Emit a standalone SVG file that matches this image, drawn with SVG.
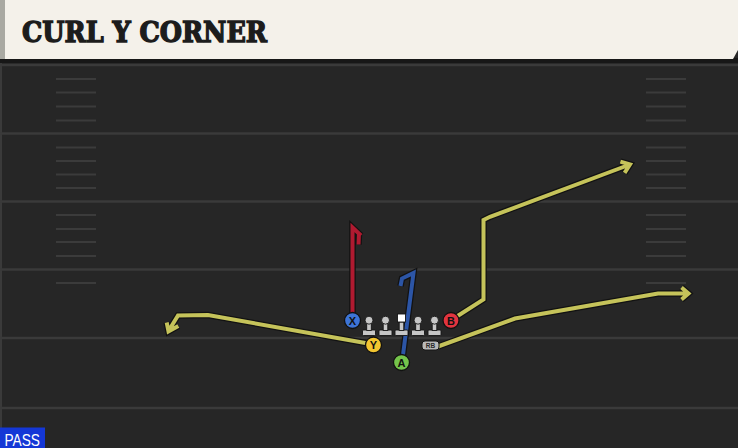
<svg xmlns="http://www.w3.org/2000/svg" width="738" height="448" viewBox="0 0 738 448">
<defs>
<style>
.yard{stroke:#3a3a3a;stroke-width:2.5;fill:none}
.hash{stroke:#3b3b3b;stroke-width:2;fill:none}
.under{fill:none;stroke:#121212;stroke-width:6.5;stroke-linejoin:miter;stroke-linecap:butt}
.route{fill:none;stroke-width:4;stroke-linejoin:miter;stroke-linecap:butt}
.yel{stroke:#c5c35a}
.red{stroke:#b01a30}
.blu{stroke:#2c55a6}
.plr{stroke:#111;stroke-width:1.3}
.lbl{font-family:"Liberation Sans",Arial,sans-serif;font-weight:bold;font-size:11px;fill:#111;text-anchor:middle}
.ol{fill:#c6c6c6;stroke:#151515;stroke-width:0.9}
</style>
<g id="lineman">
<rect x="-6.5" y="0" width="13" height="5.5" rx="1" class="ol"/>
<rect x="-2.3" y="-7" width="4.6" height="7.5" class="ol"/>
<circle cx="0" cy="-9.8" r="4" class="ol"/>
</g>
</defs>
<rect x="0" y="0" width="738" height="448" fill="#262626"/>
<rect x="0" y="62" width="2" height="386" fill="#3a3a3a"/>
<g id="field">
<line class="yard" x1="0" y1="65" x2="738" y2="65"/>
<line class="yard" x1="0" y1="133.5" x2="738" y2="133.5"/>
<line class="yard" x1="0" y1="201.5" x2="738" y2="201.5"/>
<line class="yard" x1="0" y1="269.5" x2="738" y2="269.5"/>
<line class="yard" x1="0" y1="338" x2="738" y2="338"/>
<line class="yard" x1="0" y1="408" x2="738" y2="408"/>
<path class="hash" d="M56,79H96M56,92.5H96M56,106.5H96M56,120.5H96M56,147.5H96M56,161H96M56,174.5H96M56,188H96M56,215H96M56,229H96M56,242H96M56,256H96M56,283H96"/>
<path class="hash" d="M646,79H686M646,92.5H686M646,106.5H686M646,120.5H686M646,147.5H686M646,161H686M646,174.5H686M646,188H686M646,215H686M646,229H686M646,242H686M646,256H686M646,283H686"/>
</g>
<g id="header">
<rect x="0" y="58" width="738" height="5" fill="#171717"/>
<polygon points="5,0 738,0 738,50 733,59 5,59" fill="#f4f1ea"/>
<rect x="0" y="0" width="5" height="59" fill="#a9a9a2"/>
<text x="22" y="42" font-family="DejaVu Serif, 'Liberation Serif', serif" font-weight="bold" font-size="27.5" fill="#1c1c1c" stroke="#1c1c1c" stroke-width="1.4" stroke-linejoin="miter" textLength="245" lengthAdjust="spacingAndGlyphs">CURL Y CORNER</text>
</g>
<g id="connectors">
<path class="under" d="M371,344 L208,315 L178,315.5 L168.5,331 M166.7,322.5 L168.5,331.5 L178.3,326"/>
<path class="under" d="M456,317 L483.5,299.5 V220 L490,216.8 L630,164.5 M620.4,161.7 L630,164.5 L624.6,172.9"/>
<path class="under" d="M438,346.5 L515,318.5 L658,293.5 L688,293.5 M681.5,287.5 L688.5,293.5 L681.5,299.5"/>
<path class="under" d="M352.5,313 V227.5 L361,235.5 M359,233 L358.5,244.5"/>
<path class="under" d="M403,355 L413.5,273 L402,278.5 L400.5,286"/>
<path class="route yel" d="M371,344 L208,315 L178,315.5 L168.5,331 M166.7,322.5 L168.5,331.5 L178.3,326"/>
<path class="route yel" d="M456,317 L483.5,299.5 V220 L490,216.8 L630,164.5 M620.4,161.7 L630,164.5 L624.6,172.9"/>
<path class="route yel" d="M438,346.5 L515,318.5 L658,293.5 L688,293.5 M681.5,287.5 L688.5,293.5 L681.5,299.5"/>
<path class="route red" d="M352.5,313 V227.5 L361,235.5 M359,233 L358.5,244.5"/>
<path class="route blu" d="M403,355 L413.5,273 L402,278.5 L400.5,286"/>
</g>
<g id="line">
<use href="#lineman" x="369" y="330"/>
<use href="#lineman" x="385.5" y="330"/>
<g id="center">
<rect x="395" y="330" width="13" height="5.5" rx="1" class="ol"/>
<rect x="399.2" y="322" width="4.6" height="8.5" class="ol"/>
<rect x="397.5" y="314" width="8" height="8" fill="#ffffff" stroke="#151515" stroke-width="0.9"/>
</g>
<use href="#lineman" x="418" y="330"/>
<use href="#lineman" x="434.5" y="330"/>
</g>
<g id="RB">
<rect x="422" y="341" width="17" height="9" rx="3" fill="#b9b9b9" stroke="#141414" stroke-width="1"/>
<text x="430.5" y="348.2" font-family="'Liberation Sans',Arial,sans-serif" font-weight="bold" font-size="6.5" fill="#2a2a2a" text-anchor="middle">RB</text>
</g>
<g id="X">
<circle cx="352.5" cy="320.5" r="8" fill="#3d74d6" class="plr"/>
<text class="lbl" x="352.5" y="324.5">X</text>
</g>
<g id="Y">
<circle cx="373.5" cy="345" r="8" fill="#f2c530" class="plr"/>
<text class="lbl" x="373.5" y="349">Y</text>
</g>
<g id="A">
<circle cx="401.5" cy="362.5" r="8" fill="#74c44b" class="plr"/>
<text class="lbl" x="401.5" y="366.5">A</text>
</g>
<g id="B">
<circle cx="451" cy="320.5" r="8" fill="#e2343f" class="plr"/>
<text class="lbl" x="451" y="324.5">B</text>
</g>
<g id="pass">
<rect x="0" y="427.5" width="45" height="20.5" fill="#1437d6"/>
<text x="4.5" y="445.5" font-family="'Liberation Sans',Arial,sans-serif" font-size="16.5" fill="#ffffff" textLength="35.5" lengthAdjust="spacingAndGlyphs">PASS</text>
</g>
</svg>
